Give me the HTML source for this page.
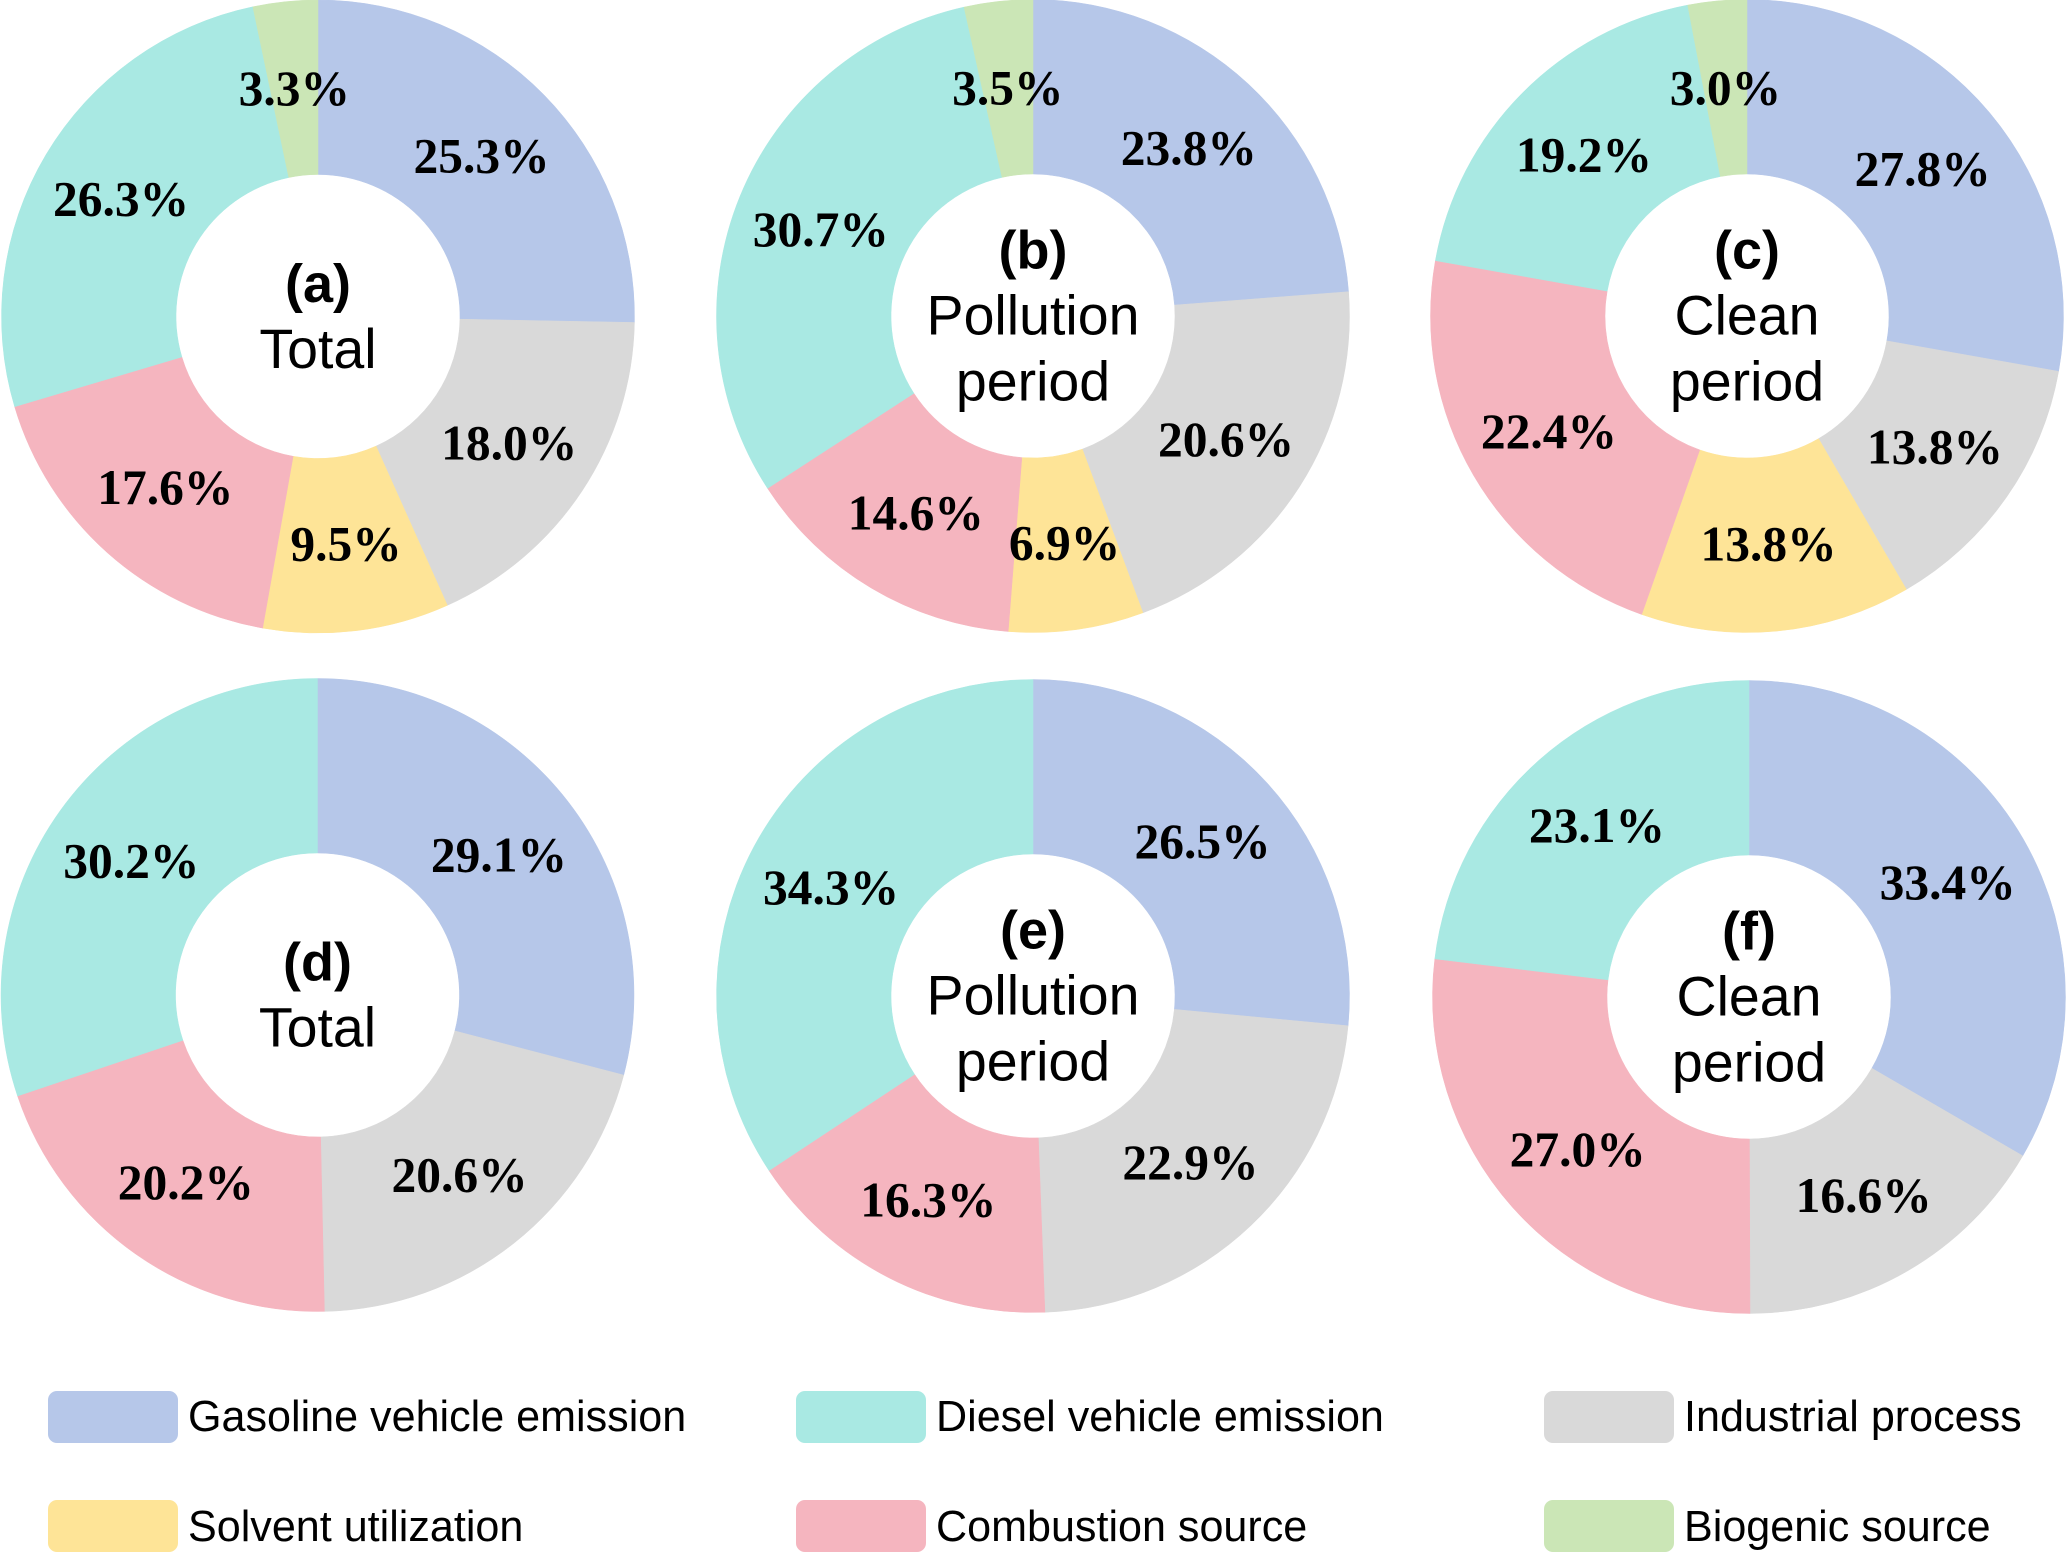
<!DOCTYPE html>
<html lang="en">
<head>
<meta charset="utf-8">
<title>Source contribution donut charts</title>
<style>
html,body{margin:0;padding:0;background:#fff;}
svg{display:block;}
.pct{font-family:"Liberation Serif",serif;font-weight:700;font-size:49.5px;fill:#000;text-anchor:middle;dominant-baseline:central;}
.cap{font-family:"Liberation Sans",sans-serif;font-size:55.5px;fill:#000;text-anchor:middle;}
.cap.b{font-weight:700;font-size:54px;}
.leg{font-family:"Liberation Sans",sans-serif;font-size:43.1px;fill:#000;dominant-baseline:central;}
</style>
</head>
<body>
<svg id="chart" xmlns="http://www.w3.org/2000/svg" width="2066" height="1553" viewBox="0 0 2066 1553"></svg>
<script>
// Legend / slice order data
const sourceNames = ["Gasoline vehicle emission", "Industrial process", "Solvent utilization", "Combustion source", "Diesel vehicle emission", "Biogenic source"];
const sourceKeys = ["gasoline", "industrial", "solvent", "combustion", "diesel", "biogenic"];

// Percent values per panel, same order as sourceNames
const valuesA = [25.3, 18.0, 9.5, 17.6, 26.3, 3.3];
const valuesB = [23.8, 20.6, 6.9, 14.6, 30.7, 3.5];
const valuesC = [27.8, 13.8, 13.8, 22.4, 19.2, 3.0];
const valuesD = [29.1, 20.6, 0, 20.2, 30.2, 0];
const valuesE = [26.5, 22.9, 0, 16.3, 34.3, 0];
const valuesF = [33.4, 16.6, 0, 27.0, 23.1, 0];

const panelLetters = ["(a)", "(b)", "(c)", "(d)", "(e)", "(f)"];
const panelPeriods = [["Total"], ["Pollution", "period"], ["Clean", "period"], ["Total"], ["Pollution", "period"], ["Clean", "period"]];
const panelValues = [valuesA, valuesB, valuesC, valuesD, valuesE, valuesF];

// Layout and style (not data)
const svgNS = "http://www.w3.org/2000/svg";
const root = document.getElementById("chart");
const colors = {gasoline:"#b6c7e9", industrial:"#d9d9d9", solvent:"#fee497", combustion:"#f5b5bf", diesel:"#a9e9e3", biogenic:"#cbe6b6"};
const centersX = [318, 1033, 1747, 317.5, 1033, 1749];
const centersY = [316.5, 316, 316, 995, 996, 997];
const rOuter = 316.5, rInner = 142, rLabel = 229.25, lineGap = 66;
const labelDy = 0, captionDy = 18.5;

function make(tag, attrs, parent) {
  const el = document.createElementNS(svgNS, tag);
  for (const k in attrs) el.setAttribute(k, attrs[k]);
  parent.appendChild(el);
  return el;
}
// Axis function: share of the panel total -> clockwise angle from 12 o'clock
function angleOf(share, total) { return share / total * Math.PI * 2; }
function polar(cx, cy, r, a) { return [cx + r * Math.sin(a), cy - r * Math.cos(a)]; }
function slicePath(cx, cy, a0, a1) {
  const large = a1 - a0 > Math.PI ? 1 : 0;
  const p0 = polar(cx, cy, rOuter, a0), p1 = polar(cx, cy, rOuter, a1);
  const p2 = polar(cx, cy, rInner, a1), p3 = polar(cx, cy, rInner, a0);
  return "M" + p0[0] + " " + p0[1] + "A" + rOuter + " " + rOuter + " 0 " + large + " 1 " + p1[0] + " " + p1[1] +
         "L" + p2[0] + " " + p2[1] + "A" + rInner + " " + rInner + " 0 " + large + " 0 " + p3[0] + " " + p3[1] + "Z";
}

panelValues.forEach(function (vals, pi) {
  const cx = centersX[pi], cy = centersY[pi];
  const letter = panelLetters[pi].charAt(1);
  const total = vals.reduce(function (s, v) { return s + v; }, 0);
  const g = make("g", {}, root);
  
  

  let cum = 0;
  const labels = [];
  vals.forEach(function (v, i) {
    if (v <= 0) return;
    const a0 = angleOf(cum, total), a1 = angleOf(cum + v, total);
    const key = sourceKeys[i];
    const path = make("path", {d: slicePath(cx, cy, a0, a1), fill: colors[key], stroke: colors[key], "stroke-width": 0.5}, g);
    
    
    labels.push({key: key, v: v, a: (a0 + a1) / 2});
    cum += v;
  });

  labels.forEach(function (l) {
    const p = polar(cx, cy, rLabel, l.a);
    const t = make("text", {x: p[0], y: p[1] + labelDy, "class": "pct"}, g);
    t.textContent = l.v.toFixed(1) + "%";
    
    
  });

  const lines = panelPeriods[pi];
  const startY = cy + captionDy - lines.length * lineGap / 2;
  const head = make("text", {x: cx, y: startY, "class": "cap b"}, g);
  head.textContent = panelLetters[pi];
  
  
  lines.forEach(function (s, i) {
    const c = make("text", {x: cx, y: startY + lineGap * (i + 1), "class": "cap"}, g);
    c.textContent = s;
    
    
  });
});

// Legend
const legendOrder = [0, 4, 1, 2, 3, 5];
const legendX = [48, 796, 1544];
const legendY = [1391, 1500];
const legendTextY = [1417, 1527];
const legend = make("g", {}, root);


legendOrder.forEach(function (src, i) {
  const col = i % 3, row = Math.floor(i / 3);
  const x = legendX[col], y = legendY[row];
  const item = make("g", {}, legend);
  
  
  const sw = make("rect", {x: x, y: y, width: 130, height: 52, rx: 9, ry: 9, fill: colors[sourceKeys[src]]}, item);
  
  
  const t = make("text", {x: x + 140, y: legendTextY[row], "class": "leg"}, item);
  t.textContent = sourceNames[src];
  
  
});
</script>
</body>
</html>
